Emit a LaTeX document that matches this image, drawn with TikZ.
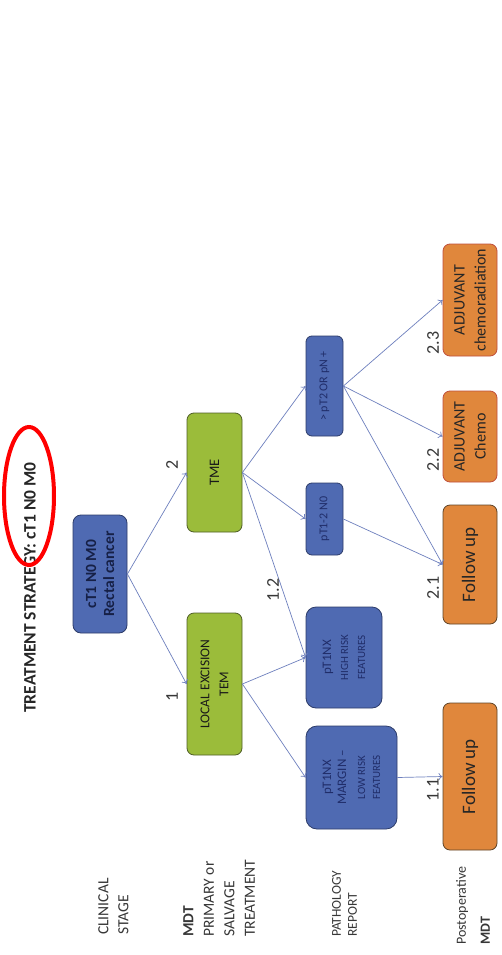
\documentclass[tikz,border=0pt]{standalone}
\usepackage{fontspec}
\setmainfont{Carlito}
\usetikzlibrary{arrows.meta}
\definecolor{bF}{RGB}{79,106,178}
\definecolor{bD}{RGB}{45,60,105}
\definecolor{bT}{RGB}{32,45,105}
\definecolor{rootT}{RGB}{22,32,70}
\definecolor{gF}{RGB}{155,188,58}
\definecolor{gD}{RGB}{80,95,40}
\definecolor{oF}{RGB}{224,135,60}
\definecolor{oD}{RGB}{95,68,40}
\definecolor{rD}{RGB}{192,80,60}
\definecolor{aC}{RGB}{110,128,190}
\definecolor{tC}{RGB}{55,55,55}
\newcommand{\myfs}[2]{\fontsize{#1}{#2}\selectfont}
\begin{document}
\begin{tikzpicture}[x=1pt,y=-1pt,
  box/.style={rotate=90, rounded corners=7pt, draw, line width=0.8pt, inner sep=0pt, align=center},
  bluebox/.style={box, fill=bF, draw=bD, text=bT},
  greenbox/.style={box, fill=gF, draw=gD, text=black!90},
  orbox/.style={box, fill=oF, draw=oD, text=black!85},
  adjbox/.style={orbox, draw=rD},
  arr/.style={draw=aC, line width=0.7pt, -{To[length=4pt,width=7pt]}},
  num/.style={rotate=90, font=\myfs{18}{20}, text=tC, inner sep=0pt},
  side/.style={rotate=90, anchor=north west, align=left, inner sep=0pt, text=tC}]
\fill[white] (0,0) rectangle (501,955);
\useasboundingbox (0,0) rectangle (501,955);

% title
\node[rotate=90, inner sep=0pt, text=black!85, font=\myfs{17.5}{20}\bfseries] (title) at (30,587.5) {TREATMENT STRATEGY: cT1 N0 M0};
\draw[red, line width=4pt] (29,496) ellipse [x radius=25pt, y radius=69pt];

% clinical stage
\node[box, fill=bF, draw=bD, text=rootT, rounded corners=8pt, minimum width=118pt, minimum height=54pt, font=\myfs{15.5}{18}\bfseries] (root) at (100,574) {cT1 N0 M0\\Rectal cancer};

% treatment
\node[greenbox, minimum width=119pt, minimum height=55pt, font=\myfs{14.5}{17}] (tme) at (214.5,472.5) {TME};
\node[greenbox, minimum width=142pt, minimum height=55pt, font=\myfs{13.5}{19}] (le) at (214.5,684) {LOCAL EXCISION\\TEM};

% pathology
\node[bluebox, rounded corners=6pt, minimum width=72pt, minimum height=37pt, font=\myfs{12}{14}] (p12) at (324.5,519) {pT1-2 N0};
\node[bluebox, rounded corners=6pt, minimum width=100pt, minimum height=37pt, font=\myfs{12}{14}] (pt2) at (324.5,386) {> pT2 OR pN +};
\node[bluebox, rounded corners=10pt, minimum width=101pt, minimum height=76pt, font=\myfs{11}{17}] (hr) at (344,657.5) {{\myfs{13}{17}pT1NX}\\HIGH RISK\\FEATURES};
\node[bluebox, rounded corners=11pt, minimum width=103pt, minimum height=91pt, font=\myfs{11}{15}] (lr) at (351.5,777.5) {{\myfs{13}{15}pT1NX}\\{\myfs{13}{15}MARGIN –}\\[4pt]LOW RISK\\FEATURES};

% postoperative
\node[orbox, minimum width=147pt, minimum height=54pt, font=\myfs{19}{21}] (f11) at (470,776.5) {Follow up};
\node[orbox, minimum width=119pt, minimum height=54pt, font=\myfs{19}{21}] (f21) at (470,564.5) {Follow up};
\node[adjbox, minimum width=91pt, minimum height=54pt, font=\myfs{16}{21}] (chemo) at (470,436.5) {ADJUVANT\\Chemo};
\node[adjbox, minimum width=112pt, minimum height=54pt, font=\myfs{16}{21}] (crad) at (470,300) {ADJUVANT\\chemoradiation};

% connectors
\draw[arr] (root.south) -- (le.north);
\draw[arr] (root.south) -- (tme.north);
\draw[arr] (le.south) -- (lr.north);
\draw[arr] (le.south) -- (hr.north);
\draw[arr] (tme.south) -- (hr.north);
\draw[arr] (tme.south) -- (p12.north);
\draw[arr] (tme.south) -- (pt2.north);
\draw[arr] (lr.south) -- (f11.north);
\draw[arr] (p12.south) -- (f21.north);
\draw[arr] (pt2.south) -- (f21.north);
\draw[arr] (pt2.south) -- (chemo.north);
\draw[arr] (pt2.south) -- (crad.north);

% numbers
\node[num] (n1) at (172,697) {1};
\node[num] (n2) at (172,465) {2};
\node[num] (n12) at (273,590) {1.2};
\node[num] (n11) at (433,790) {1.1};
\node[num] (n21) at (433,588) {2.1};
\node[num] (n22) at (433,460) {2.2};
\node[num] (n23) at (433,343) {2.3};

% side labels
\node[side, font=\myfs{15.5}{20}] (lclin) at (98,935) {CLINICAL\\STAGE};
\node[side, font=\myfs{15.5}{20.5}] (lmdt) at (183,937) {\textbf{MDT}\\PRIMARY or\\SALVAGE\\TREATMENT};
\node[side, font=\myfs{13.5}{16}] (lpath) at (332,937) {PATHOLOGY\\REPORT};
\node[side, font=\myfs{14}{24}] (lpost) at (456,945) {Postoperative\\\textbf{MDT}};
\end{tikzpicture}
\end{document}
